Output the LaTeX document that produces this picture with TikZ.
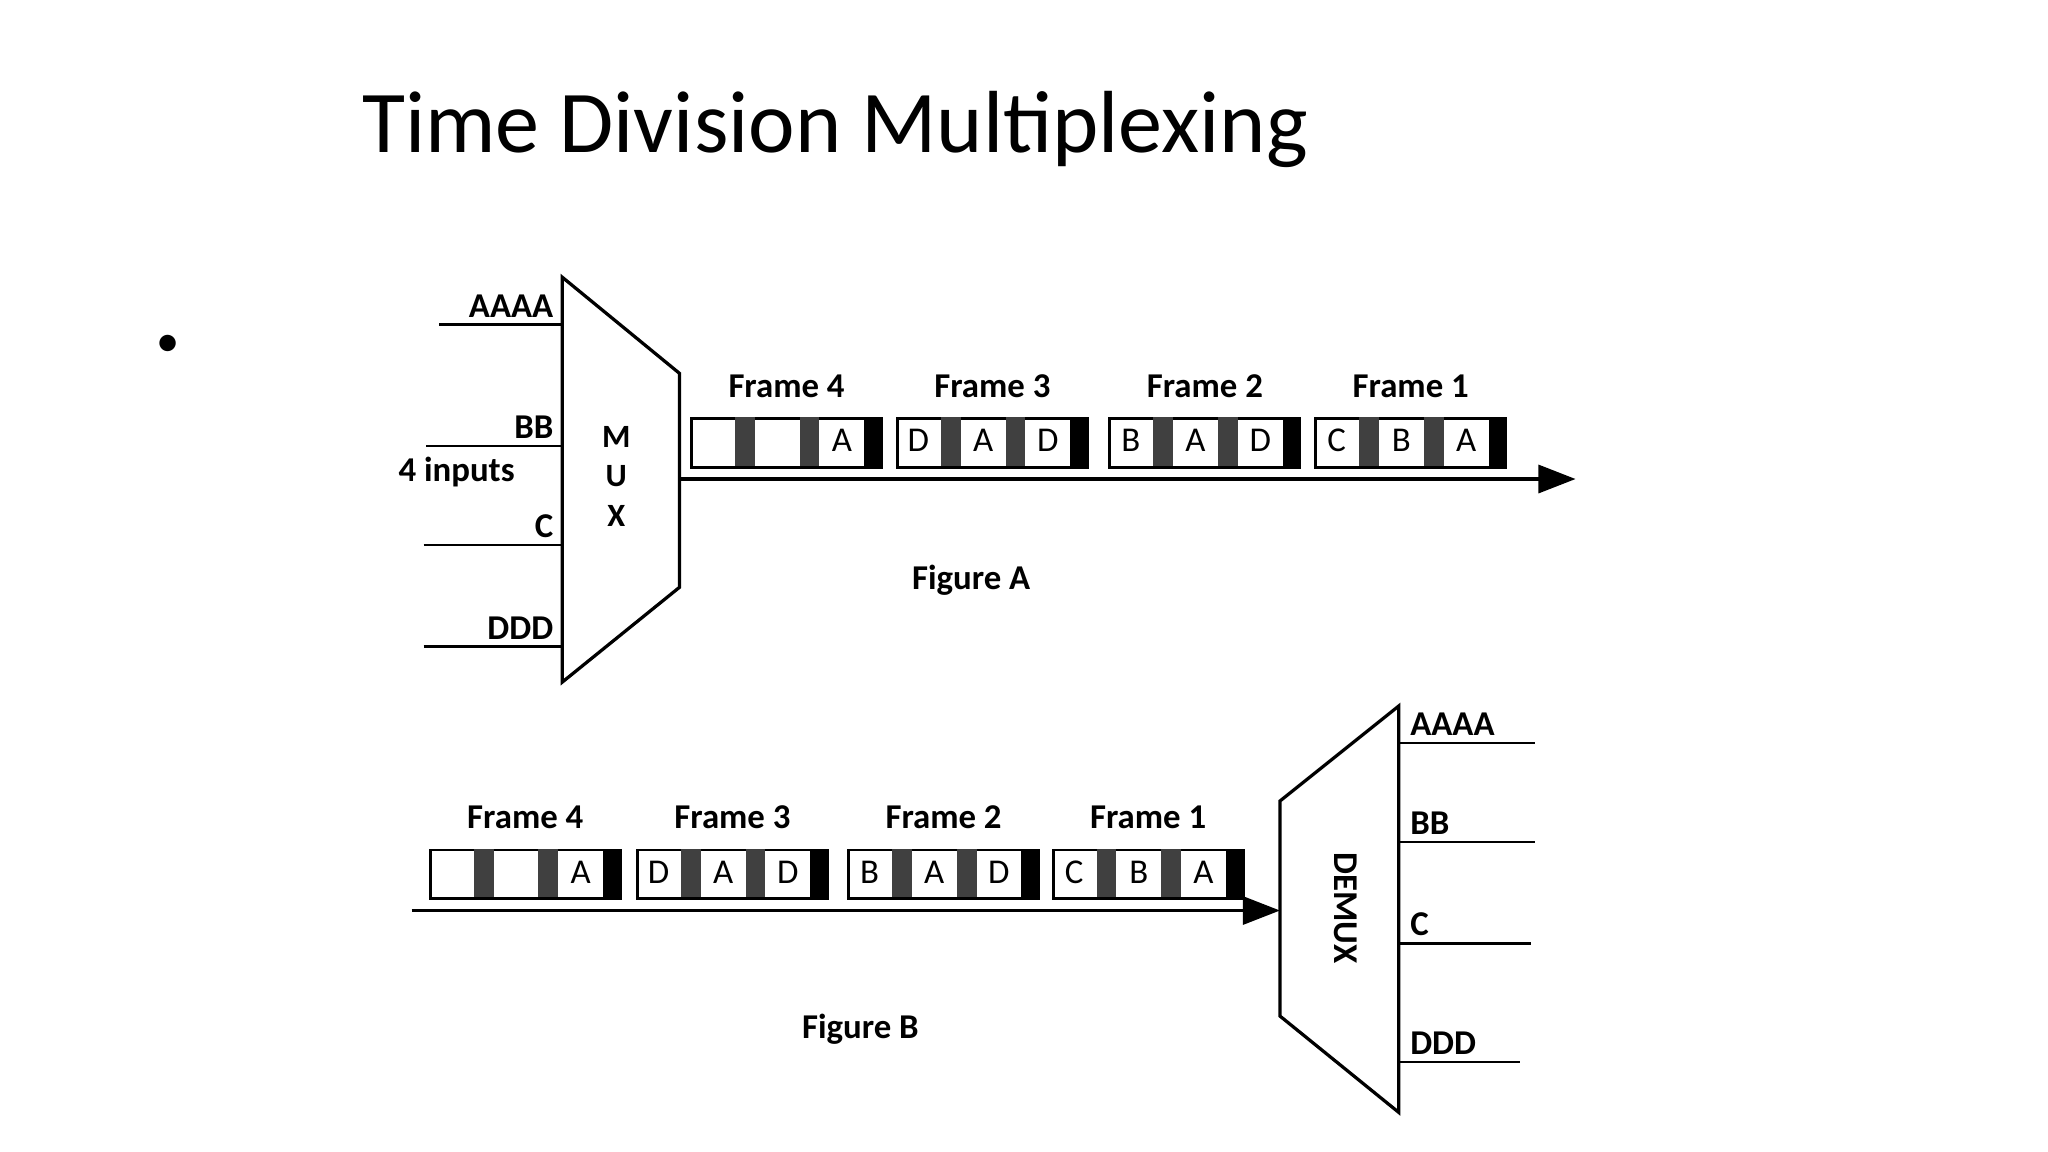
\documentclass[tikz,border=0pt]{standalone}
\usepackage{fontspec}
\setmainfont{Carlito}
\usetikzlibrary{arrows.meta}
\tikzset{
 lbl/.style={font=\bfseries\fontsize{7.5}{9}\selectfont,inner sep=0pt},
 wire/.style={line width=0.5pt},
 sepst/.style={fill=black!75,draw=none},
 endst/.style={fill=black,draw=none},
}
% \tdmframe{x}{y}{s1}{s2}{s3}{name}
\newcommand{\tdmframe}[6]{%
 \begin{scope}[shift={(#1,#2)}]
  \node[draw,line width=0.6pt,minimum width=144*0.01cm,minimum height=37*0.01cm,anchor=north west,inner sep=0pt] (#6) at (0,0) {};
  \fill[sepst] (34,0) rectangle (49,37);
  \fill[sepst] (83,0) rectangle (98,37);
  \fill[endst] (132,0) rectangle (144,37);
  \node[font=\fontsize{7.5}{9}\selectfont] at (17,18) {#3};
  \node[font=\fontsize{7.5}{9}\selectfont] at (66,18) {#4};
  \node[font=\fontsize{7.5}{9}\selectfont] at (115,18) {#5};
 \end{scope}}
\begin{document}
\begin{tikzpicture}[x=0.01cm,y=-0.01cm]
\useasboundingbox (0,0) rectangle (1552,873);
\node[anchor=west,font=\fontsize{19}{23}\selectfont] (title) at (262,98) {Time Division Multiplexing};
\node (bul) at (127,262) {\textbullet};
% MUX
\draw[line width=0.7pt] (426,210) -- (515,283) -- (515,445) -- (426,517) -- cycle;
\node[lbl,align=center,font=\bfseries\fontsize{7}{8.5}\selectfont] (mux) at (467,361) {M\\U\\X};
\foreach \t/\y/\x in {AAAA/246/333,BB/338/323,C/413/321,DDD/490/321}{
 \draw[wire] (\x,\y) -- (426,\y);
 \node[lbl,anchor=south east] at (420,\y-5) {\t};
}
\node[lbl] (inp) at (346,358) {4 inputs};
\coordinate (as) at (515,363); \coordinate (ae) at (1194,363);
\draw[line width=0.8pt,-{Triangle[length=8pt,width=6pt]}] (as) -- (ae);
\tdmframe{523}{316}{}{}{A}{a4}
\tdmframe{679}{316}{D}{A}{D}{a3}
\tdmframe{840}{316}{B}{A}{D}{a2}
\tdmframe{996}{316}{C}{B}{A}{a1}
\foreach \n/\t in {a4/Frame 4,a3/Frame 3,a2/Frame 2,a1/Frame 1}
 \node[lbl,anchor=south] at ([yshift=4pt]\n.north) {\t};
\node[lbl] (figa) at (736,440) {Figure A};
% DEMUX
\coordinate (bs) at (312,690); \coordinate (be) at (970,690);
\draw[line width=0.8pt,-{Triangle[length=8pt,width=6pt]}] (bs) -- (be);
\tdmframe{325}{643}{}{}{A}{b4}
\tdmframe{482}{643}{D}{A}{D}{b3}
\tdmframe{642}{643}{B}{A}{D}{b2}
\tdmframe{797}{643}{C}{B}{A}{b1}
\foreach \n/\t in {b4/Frame 4,b3/Frame 3,b2/Frame 2,b1/Frame 1}
 \node[lbl,anchor=south] at ([yshift=4pt]\n.north) {\t};
\node[lbl] (figb) at (652,780) {Figure B};
\draw[line width=0.7pt] (1060,535) -- (1060,843) -- (970,770) -- (970,607) -- cycle;
\node[lbl,rotate=-90] (demux) at (1020,688) {DEMUX};
\foreach \t/\y/\x in {AAAA/563/1163,BB/638/1163,C/715/1160,DDD/805/1152}{
 \draw[wire] (1060,\y) -- (\x,\y);
 \node[lbl,anchor=south west] at (1068,\y-5) {\t};
}
\end{tikzpicture}
\end{document}
